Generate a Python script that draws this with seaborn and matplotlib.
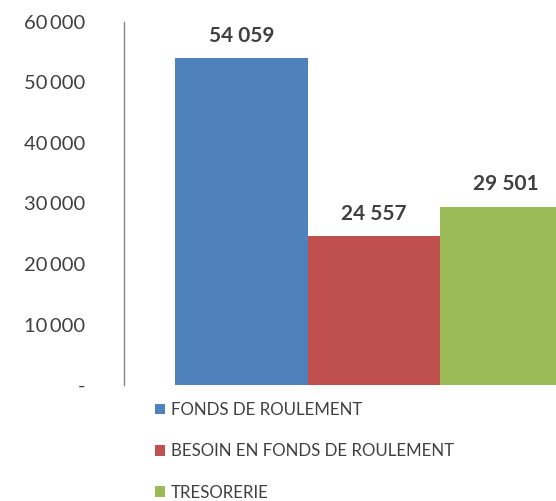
import matplotlib
matplotlib.use("Agg")
import matplotlib.pyplot as plt
import seaborn as sns
import pandas as pd
from matplotlib.patches import Patch

series = ["FONDS DE ROULEMENT", "BESOIN EN FONDS DE ROULEMENT", "TRESORERIE"]
values = [54059, 24557, 29501]
colors = ["#4F81BD", "#C0504D", "#9BBB59"]
yticks = [0, 10000, 20000, 30000, 40000, 50000, 60000]

df = pd.DataFrame({"serie": series, "valeur": values})

sns.set_style("white")
plt.rcParams["font.family"] = ["Lato", "DejaVu Sans"]

fig = plt.figure(figsize=(5.56, 5.01), dpi=100)
ax = fig.add_axes([124 / 556, (501 - 385) / 501, 1 - 124 / 556, (385 - 22) / 501])

sns.barplot(data=df, x="serie", y="valeur", hue="serie", palette=colors,
            width=1.0, legend=False, ax=ax, saturation=1, linewidth=0)

ax.set_xlim(-0.885, 2.375)
ax.set_ylim(0, 60000)
ax.set_yticks(yticks)
ax.set_yticklabels(["-" if v == 0 else f"{v:,}".replace(",", "\u2009") for v in yticks],
                   fontsize=14.5, color="#404040")
ax.tick_params(axis="y", length=0, pad=28)
ax.set_xticks([])
ax.set_xlabel("")
ax.set_ylabel("")
for s in ["top", "right", "bottom"]:
    ax.spines[s].set_visible(False)
ax.spines["left"].set_color("#868686")
ax.spines["left"].set_linewidth(1)

# étiquettes au-dessus des barres
for i, v in enumerate(values):
    ax.text(i, v + 2000, f"{v:,}".replace(",", " "), ha="center", va="bottom",
            fontsize=15, fontweight="bold", color="#404040")

handles = [Patch(facecolor=c, edgecolor="none") for c in colors]
fig.legend(handles, series, loc="upper left", bbox_to_anchor=(155 / 556, 1 - 402 / 501),
           frameon=False, fontsize=12.2, handlelength=0.6, handleheight=0.6,
           handletextpad=0.35, labelspacing=1.5, borderaxespad=0, borderpad=0,
           labelcolor="#404040")

fig.savefig("out.png", dpi=100)
